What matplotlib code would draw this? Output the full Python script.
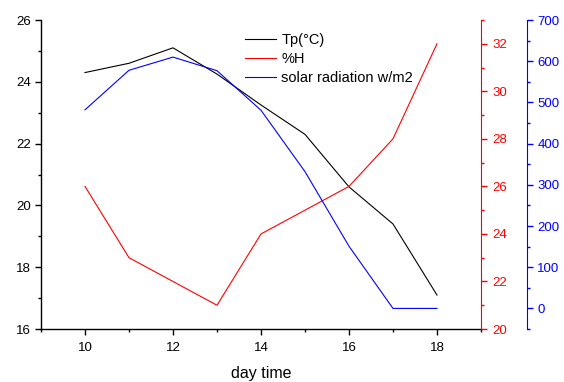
import numpy as np
import matplotlib
matplotlib.use('Agg')
import matplotlib.pyplot as plt
from matplotlib.ticker import MultipleLocator

plt.rcParams['font.family'] = ['Liberation Sans', 'DejaVu Sans']

hours = [10, 11, 12, 13, 14, 15, 16, 17, 18]
temp = [24.3, 24.6, 25.1, 24.25, 23.25, 22.3, 20.6, 19.4, 17.1]
humidity = [26.0, 23.0, 22.0, 21.0, 24.0, 25.0, 26.0, 28.0, 32.0]
solar = [482, 578, 610, 577, 481, 332, 151, 0, 0]

fig = plt.figure(figsize=(5.64, 3.82), dpi=100)
ax = fig.add_axes([0.0727, 0.1387, 0.7801, 0.8089])
ax2 = ax.twinx()
ax3 = ax.twinx()
ax3.spines['right'].set_position(('outward', 33))

l1, = ax.plot(hours, temp, color='black', lw=0.8, label='Tp(°C)')
l2, = ax2.plot(hours, humidity, color='red', lw=0.8, label='%H')
l3, = ax3.plot(hours, solar, color='blue', lw=0.8, label='solar radiation w/m2')

ax.set_xlim(9, 19)
ax.set_ylim(16, 26)
ax2.set_ylim(20, 33)
ax3.set_ylim(-50, 700)

ax.xaxis.set_major_locator(MultipleLocator(2))
ax.xaxis.set_minor_locator(MultipleLocator(1))
ax.yaxis.set_major_locator(MultipleLocator(2))
ax.yaxis.set_minor_locator(MultipleLocator(1))
ax2.yaxis.set_major_locator(MultipleLocator(2))
ax2.yaxis.set_minor_locator(MultipleLocator(1))
ax3.yaxis.set_major_locator(MultipleLocator(100))
ax3.yaxis.set_minor_locator(MultipleLocator(50))

for a in (ax, ax2, ax3):
    a.spines['top'].set_visible(False)
ax.spines['right'].set_visible(False)
ax2.spines['left'].set_visible(False)
ax3.spines['left'].set_visible(False)
ax3.spines['bottom'].set_visible(False)
ax2.spines['bottom'].set_visible(False)

ax.tick_params(which='major', direction='out', length=4, width=1, labelsize=9.5)
ax.tick_params(axis='y', which='major', pad=3.5)
ax.tick_params(axis='x', which='major', pad=5)
ax.tick_params(which='minor', direction='out', length=2.5, width=1)
ax.spines['left'].set_linewidth(1)
ax.spines['bottom'].set_linewidth(1)

ax2.spines['right'].set_color('red')
ax2.tick_params(axis='y', which='both', colors='red', width=1, pad=4.5, labelsize=9.5)
ax2.tick_params(axis='y', which='major', length=4)
ax2.tick_params(axis='y', which='minor', length=2.5)

ax3.spines['right'].set_color('blue')
ax3.tick_params(axis='y', which='both', colors='blue', width=1, pad=3.5, labelsize=9.5)
ax3.tick_params(axis='y', which='major', length=4)
ax3.tick_params(axis='y', which='minor', length=2.5)

ax.set_xlabel('day time', fontsize=11.5, labelpad=9)

ax.legend(handles=[l1, l2, l3], loc='upper left', bbox_to_anchor=(0.44, 0.99),
          frameon=False, fontsize=10.5, handlelength=2.15, handletextpad=0.35,
          labelspacing=0.33, borderaxespad=0.3)

fig.savefig('out.png', dpi=100)
